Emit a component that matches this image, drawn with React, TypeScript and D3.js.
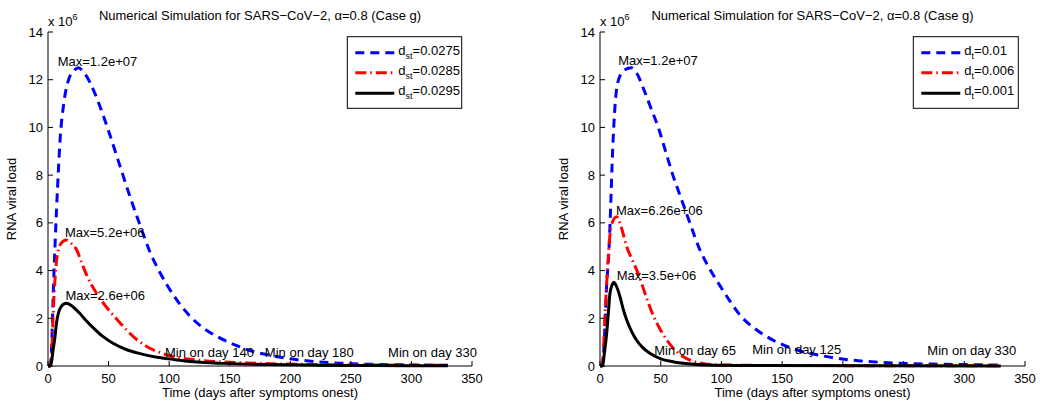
import React from "react";
import * as d3 from "d3";

// ---- data (values in units of 10^6) ----
const leftBlueDays = [0, 2, 3, 4, 5, 6, 7, 8, 10, 13, 17, 21, 25, 29, 35, 42, 50, 59, 68, 76, 84, 91, 98, 108, 117, 128, 139, 150, 160, 170, 186, 200, 222, 240, 260, 290, 330];
const leftBlueVals = [0, 0.05, 0.8, 2.5, 4.0, 5.3, 6.5, 7.6, 9.5, 11.0, 12.0, 12.35, 12.5, 12.35, 11.85, 11.0, 9.85, 8.45, 7.05, 5.9, 4.8, 4.05, 3.42, 2.65, 2.1, 1.6, 1.25, 0.98, 0.77, 0.6, 0.42, 0.3, 0.18, 0.12, 0.08, 0.05, 0.03];

const leftRedDays = [0, 2, 3, 4, 5, 6, 7, 8.5, 11, 15, 19, 23.7, 28, 32, 40, 48.5, 57, 65, 73, 81.5, 92, 103, 120, 145, 180, 220, 270, 330];
const leftRedVals = [0, 0, 0.5, 1.8, 3.0, 3.8, 4.4, 4.86, 5.15, 5.28, 5.15, 4.86, 4.3, 3.8, 3.05, 2.45, 1.95, 1.5, 1.12, 0.82, 0.57, 0.4, 0.27, 0.17, 0.1, 0.06, 0.04, 0.03];

const leftBlackDays = [0, 1.6, 3, 4, 5.8, 7, 8.5, 11, 14.9, 19, 22, 26.4, 31, 37.4, 45, 54, 65, 76, 90, 103, 120, 145, 180, 220, 270, 330];
const leftBlackVals = [0, 0, 0.2, 0.6, 1.23, 1.8, 2.2, 2.5, 2.63, 2.55, 2.42, 2.2, 1.93, 1.6, 1.25, 0.94, 0.68, 0.52, 0.37, 0.28, 0.18, 0.11, 0.06, 0.035, 0.02, 0.01];

const rightBlueDays = [0, 2, 3, 4, 5.5, 7, 8, 9, 10, 11, 13, 16, 20, 26, 30, 36, 42, 48, 54, 60, 67, 74, 82, 90, 99, 107, 115, 128, 143, 155, 165, 184, 198, 215, 233, 255, 274, 300, 330];
const rightBlueVals = [0, 0.05, 0.6, 1.6, 3.4, 4.5, 5.6, 7.0, 8.5, 9.7, 11.3, 12.1, 12.4, 12.5, 12.3, 11.6, 10.8, 10.0, 9.0, 8.0, 7.0, 6.0, 4.9, 4.1, 3.35, 2.72, 2.15, 1.55, 1.07, 0.8, 0.63, 0.42, 0.3, 0.21, 0.15, 0.1, 0.08, 0.06, 0.04];

const rightRedDays = [0, 2, 3, 4, 5, 6, 6.9, 8.2, 10, 13.7, 17, 22, 27, 32, 38, 44, 50, 55, 62, 68.6, 80, 96, 150, 330];
const rightRedVals = [0, 0.1, 0.8, 2.0, 3.0, 3.9, 4.6, 5.5, 6.0, 6.26, 5.9, 5.0, 4.4, 3.8, 2.9, 2.1, 1.5, 1.09, 0.65, 0.39, 0.15, 0.05, 0.02, 0.01];

const rightBlackDays = [0, 2.2, 3.5, 5.5, 7, 8.2, 10, 11.5, 13, 16.5, 19, 22, 26, 30, 35, 41, 50, 60, 75, 88, 120, 330];
const rightBlackVals = [0, 0, 0.5, 1.37, 2.3, 3.05, 3.4, 3.51, 3.4, 2.9, 2.4, 1.93, 1.45, 1.09, 0.78, 0.53, 0.3, 0.18, 0.08, 0.04, 0.02, 0.005];

const xTicks = [0, 50, 100, 150, 200, 250, 300, 350];
const yTicks = [0, 2, 4, 6, 8, 10, 12, 14];

const titleText = "Numerical Simulation for SARS\u2212CoV\u22122, \u03b1=0.8 (Case g)";
const xLabelText = "Time (days after symptoms onest)";
const yLabelText = "RNA viral load";

const leftLegendSub = "st";
const leftLegendVals = ["=0.0275", "=0.0285", "=0.0295"];
const rightLegendSub = "t";
const rightLegendVals = ["=0.01", "=0.006", "=0.001"];

// annotations: [text, day, value(10^6)]
const leftNotes: [string, number, number][] = [
  ["Max=1.2e+07", 8, 12.57],
  ["Max=5.2e+06", 14, 5.41],
  ["Max=2.6e+06", 14.4, 2.77],
  ["Min on day 140", 96.6, 0.38],
  ["Min on day 180", 179, 0.38],
  ["Min on day 330", 280.7, 0.38],
];
const rightNotes: [string, number, number][] = [
  ["Max=1.2e+07", 15, 12.6],
  ["Max=6.26e+06", 13.2, 6.33],
  ["Max=3.5e+06", 13.7, 3.6],
  ["Min on day 65", 44.7, 0.46],
  ["Min on day 125", 125.4, 0.5],
  ["Min on day 330", 269.6, 0.46],
];

const FONT = "'Liberation Sans', Arial, Helvetica, sans-serif";

const styles = [
  { color: "#0000ff", dash: "9,6" },
  { color: "#ff0000", dash: "11,4,1.5,4" },
  { color: "#000000", dash: "" },
];

type PanelProps = {
  x0: number;
  x1: number;
  series: [number[], number[]][];
  notes: [string, number, number][];
  legendSub: string;
  legendVals: string[];
  legendX0: number;
  legendX1: number;
};

function Panel({ x0, x1, series, notes, legendSub, legendVals, legendX0, legendX1 }: PanelProps) {
  const xs = d3.scaleLinear().domain([0, 350]).range([x0, x1]);
  const ys = d3.scaleLinear().domain([0, 14]).range([366, 32]);
  const line = d3
    .line<[number, number]>()
    .x((d) => xs(d[0]))
    .y((d) => ys(d[1]))
    .curve(d3.curveMonotoneX);
  const cx = (x0 + x1) / 2;
  const rowY = [52.7, 72.7, 93.3];
  const sampleX0 = legendX0 + 8;
  const sampleX1 = sampleX0 + 39;
  return (
    <g fontFamily={FONT} fill="#000">
      {series.map(([days, vals], i) => (
        <path
          key={i}
          d={line(days.map((d, j) => [d, vals[j]] as [number, number])) || ""}
          fill="none"
          stroke={styles[i].color}
          strokeWidth={3}
          strokeDasharray={styles[i].dash || undefined}
          strokeLinejoin="round"
        />
      ))}
      <line x1={x0} x2={x1} y1={ys(0)} y2={ys(0)} stroke="#000" strokeWidth={1} />
      <line x1={x0} x2={x0} y1={ys(0)} y2={ys(14)} stroke="#000" strokeWidth={1} />
      {xTicks.map((t) => (
        <g key={"x" + t}>
          <line x1={xs(t)} x2={xs(t)} y1={ys(0)} y2={ys(0) - 5} stroke="#000" />
          <text x={xs(t)} y={ys(0) + 17} fontSize={13} textAnchor="middle">
            {t}
          </text>
        </g>
      ))}
      {yTicks.map((t) => (
        <g key={"y" + t}>
          <line x1={x0} x2={x0 + 5} y1={ys(t)} y2={ys(t)} stroke="#000" />
          <text x={x0 - 5} y={ys(t) + 4.5} fontSize={13} textAnchor="end">
            {t}
          </text>
        </g>
      ))}
      <text x={x0} y={26} fontSize={13}>
        x 10
        <tspan fontSize={9} dy={-6}>
          6
        </tspan>
      </text>
      <text x={cx} y={20} fontSize={13} textAnchor="middle">
        {titleText}
      </text>
      <text x={cx} y={397} fontSize={13} textAnchor="middle">
        {xLabelText}
      </text>
      <text
        transform={`translate(${x0 - 32},${(ys(0) + ys(14)) / 2}) rotate(-90)`}
        fontSize={13}
        textAnchor="middle"
      >
        {yLabelText}
      </text>
      {notes.map(([txt, d, v], i) => (
        <text key={"n" + i} x={xs(d)} y={ys(v)} fontSize={13}>
          {txt}
        </text>
      ))}
      <rect x={legendX0} y={36.7} width={legendX1 - legendX0} height={71.6} fill="#fff" stroke="#000" strokeWidth={1} />
      {legendVals.map((v, i) => (
        <g key={"l" + i}>
          <line
            x1={sampleX0}
            x2={sampleX1}
            y1={rowY[i]}
            y2={rowY[i]}
            stroke={styles[i].color}
            strokeWidth={3}
            strokeDasharray={styles[i].dash || undefined}
          />
          <text x={sampleX1 + 4} y={rowY[i] + 2} fontSize={13}>
            d
            <tspan fontSize={9} dy={4}>
              {legendSub}
            </tspan>
            <tspan dy={-4}>{v}</tspan>
          </text>
        </g>
      ))}
    </g>
  );
}

export default function App() {
  return (
    <svg width={1040} height={406} style={{ display: "block", position: "absolute", left: 0, top: 0 }}>
      <rect width={1040} height={406} fill="#fff" />
      <Panel
        x0={48}
        x1={472}
        series={[
          [leftBlueDays, leftBlueVals],
          [leftRedDays, leftRedVals],
          [leftBlackDays, leftBlackVals],
        ]}
        notes={leftNotes}
        legendSub={leftLegendSub}
        legendVals={leftLegendVals}
        legendX0={347.3}
        legendX1={461.7}
      />
      <Panel
        x0={600}
        x1={1025}
        series={[
          [rightBlueDays, rightBlueVals],
          [rightRedDays, rightRedVals],
          [rightBlackDays, rightBlackVals],
        ]}
        notes={rightNotes}
        legendSub={rightLegendSub}
        legendVals={rightLegendVals}
        legendX0={913.3}
        legendX1={1018.3}
      />
    </svg>
  );
}
